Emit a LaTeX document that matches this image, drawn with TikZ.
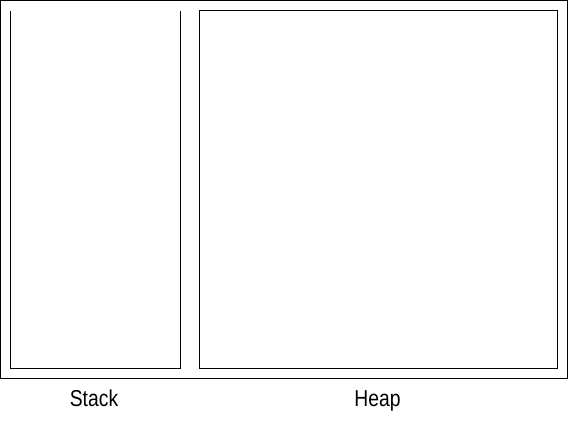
\documentclass[tikz,border=0pt]{standalone}
\usepackage{fontspec}
\setmainfont{Liberation Sans}
\begin{document}
\begin{tikzpicture}[x=1pt,y=-1pt,
  frame/.style={draw=black,line width=1pt},
  lbl/.style={font=\fontsize{23}{23}\selectfont,anchor=base,xscale=0.84,transform shape,inner sep=0pt}]
\useasboundingbox (0,0) rectangle (568,426);
\fill[white] (0,0) rectangle (568,426);
% outer frame
\draw[frame] (0.5,0.5) rectangle (567,378);
% stack (open top)
\draw[frame] (10.5,11) -- (10.5,368) -- (180.5,368) -- (180.5,11);
% heap
\draw[frame] (199.5,10.5) rectangle (557.5,368);
\node[lbl] (stack) at (94,406) {Stack};
\node[lbl] (heap) at (377.5,406) {Heap};
\end{tikzpicture}
\end{document}
